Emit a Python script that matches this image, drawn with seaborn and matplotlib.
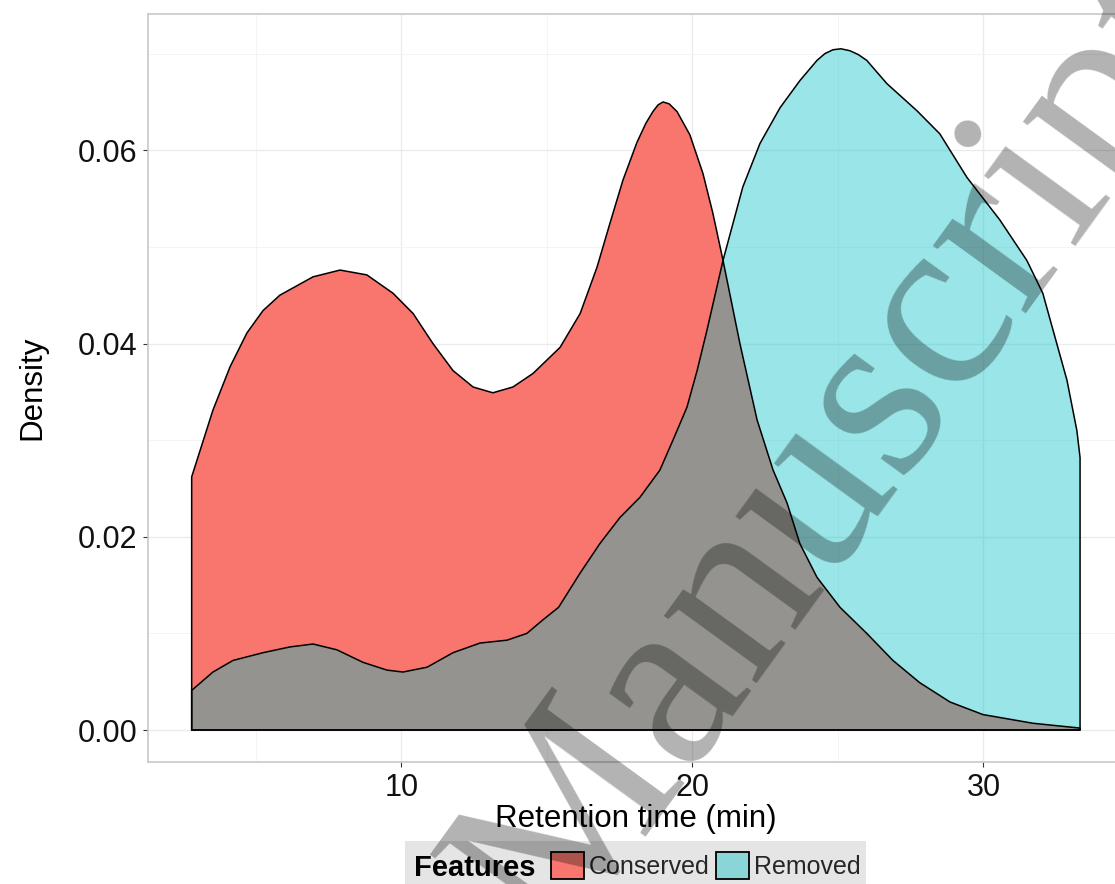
import numpy as np
import pandas as pd
import matplotlib
matplotlib.use("Agg")
import matplotlib.pyplot as plt
import seaborn as sns
from matplotlib.patches import Patch, Rectangle
from matplotlib.ticker import FixedLocator

# ---------------- data ----------------
series = ["Conserved", "Removed"]

conserved_x = [2.79, 3.52, 4.11, 4.69, 5.24, 5.82, 6.96, 7.89, 8.81, 9.71,
               10.40, 11.08, 11.77, 12.46, 13.14, 13.83, 14.52, 15.45, 16.14, 16.72,
               17.16, 17.61, 18.09, 18.40, 18.64, 18.82, 18.99, 19.20, 19.47, 19.91,
               20.36, 20.70, 21.05, 21.63, 22.22, 22.77, 23.25, 23.69, 24.28, 25.07,
               25.99, 26.89, 27.81, 28.85, 29.98, 31.70, 33.32]
conserved_density = [0.0262, 0.0331, 0.0376, 0.0411, 0.0434, 0.0450, 0.0469, 0.0476, 0.0471, 0.0452,
                     0.0431, 0.0400, 0.0372, 0.0355, 0.0349, 0.0355, 0.0369, 0.0396, 0.0431, 0.0479,
                     0.0524, 0.0569, 0.0608, 0.0628, 0.0640, 0.0647, 0.0650, 0.0648, 0.0640, 0.0616,
                     0.0576, 0.0535, 0.0486, 0.0400, 0.0321, 0.0269, 0.0235, 0.0193, 0.0158, 0.0127,
                     0.0100, 0.0072, 0.0049, 0.0029, 0.0016, 0.0007, 0.0002]

removed_x = [2.79, 3.52, 4.21, 5.24, 6.17, 6.96, 7.78, 8.68, 9.50, 10.05,
             10.88, 11.77, 12.70, 13.63, 14.31, 14.86, 15.40, 16.13, 16.82, 17.51,
             18.20, 18.88, 19.33, 19.81, 20.16, 20.50, 21.05, 21.73, 22.32, 23.01,
             23.69, 24.28, 24.55, 24.83, 25.10, 25.41, 25.70, 25.99, 26.68, 27.71,
             28.50, 29.43, 30.56, 31.49, 32.04, 32.39, 32.87, 33.21, 33.32]
removed_density = [0.0041, 0.0060, 0.0072, 0.0080, 0.0086, 0.0089, 0.0083, 0.0070, 0.0062, 0.0060,
                   0.0065, 0.0080, 0.0090, 0.0093, 0.0100, 0.0114, 0.0127, 0.0162, 0.0193, 0.0220,
                   0.0241, 0.0269, 0.0300, 0.0334, 0.0372, 0.0414, 0.0486, 0.0562, 0.0607, 0.0644,
                   0.0672, 0.0693, 0.0700, 0.0704, 0.0705, 0.0703, 0.0699, 0.0693, 0.0669, 0.0641,
                   0.0617, 0.0572, 0.0528, 0.0486, 0.0452, 0.0414, 0.0362, 0.0310, 0.0282]

x_ticks = [10, 20, 30]
y_ticks = [0.00, 0.02, 0.04, 0.06]
y_tick_labels = ["0.00", "0.02", "0.04", "0.06"]
x_label = "Retention time (min)"
y_label = "Density"
legend_title = "Features"
watermark = "Manuscript"

# ---------------- style ----------------
RED = "#F8766D"
CYAN = (0.0, 0.749, 0.769, 0.4)

sns.set_theme(style="white")
plt.rcParams["font.family"] = ["Liberation Sans", "DejaVu Sans"]

W, H = 1115, 884
fig = plt.figure(figsize=(W / 100, H / 100), dpi=100)
fig.patch.set_facecolor("white")
ax = fig.add_axes([148 / W, (H - 762) / H, (1124 - 148) / W, (762 - 14) / H])
ax.set_facecolor("white")

frames = {
    "Conserved": pd.DataFrame({"x": conserved_x, "y": conserved_density}),
    "Removed": pd.DataFrame({"x": removed_x, "y": removed_density}),
}
fills = {"Conserved": RED, "Removed": CYAN}

for name in series:
    d = frames[name]
    ax.fill_between(d["x"], 0, d["y"], facecolor=fills[name], edgecolor="none", zorder=2)
    # closed outline (vertical sides + baseline), as ggplot draws it
    ox = np.r_[d["x"].iloc[0], d["x"].to_numpy(), d["x"].iloc[-1], d["x"].iloc[0]]
    oy = np.r_[0.0, d["y"].to_numpy(), 0.0, 0.0]
    outline = pd.DataFrame({"x": ox, "y": oy})
    sns.lineplot(data=outline, x="x", y="y", sort=False, estimator=None, color="black",
                 linewidth=1.1, ax=ax, zorder=3)

ax.set_xlim(1.289, 34.83)
ax.set_ylim(-0.00331, 0.0741)

ax.xaxis.set_major_locator(FixedLocator(x_ticks))
ax.xaxis.set_minor_locator(FixedLocator([5, 15, 25]))
ax.yaxis.set_major_locator(FixedLocator(y_ticks))
ax.yaxis.set_minor_locator(FixedLocator([0.01, 0.03, 0.05, 0.07]))
ax.set_yticklabels(y_tick_labels)
ax.set_xticklabels([str(t) for t in x_ticks])

ax.grid(which="major", color="#ebebeb", linewidth=1.0, zorder=0)
ax.grid(which="minor", color="#f3f3f3", linewidth=0.6, zorder=0)
ax.set_axisbelow(True)

for s in ax.spines.values():
    s.set_color("#c8c8c8")
    s.set_linewidth(1.2)

ax.tick_params(which="major", length=3.6, width=0.8, color="#333333",
               labelsize=22, labelcolor="#111111", pad=4, bottom=True, left=True)
ax.tick_params(axis="x", pad=4.3)
ax.tick_params(which="minor", length=0)

ax.set_xlabel(x_label, fontsize=22.5, labelpad=1, color="black")
ax.set_ylabel(y_label, fontsize=22.5, labelpad=22, color="black")

# ---------------- legend (bottom, ggplot style) ----------------
fig.add_artist(Rectangle((405 / W, 0), (866 - 405) / W, (H - 841) / H,
                         transform=fig.transFigure, facecolor="#e5e5e5",
                         edgecolor="none", zorder=1))
fig.text(414 / W, (H - 876) / H, legend_title, fontsize=21, fontweight="bold",
         ha="left", va="baseline", color="black", zorder=6)
handles = [Patch(facecolor=RED, edgecolor="black", linewidth=1.3),
           Patch(facecolor=CYAN, edgecolor="black", linewidth=1.3)]
fig.legend(handles, series, ncol=2, loc="center left",
           bbox_to_anchor=(551 / W, (H - 865.5) / H), frameon=False, fontsize=18,
           handlelength=1.32, handleheight=1.32, handletextpad=0.2,
           columnspacing=0.25, borderpad=0, borderaxespad=0)

# ---------------- watermark ----------------
fig.text(891 / W, (H - 490) / H, watermark, rotation=54, rotation_mode="anchor",
         ha="center", va="baseline", fontsize=180, family=["Liberation Serif", "DejaVu Serif"],
         color="black", alpha=0.3, zorder=20)

fig.savefig("out.png", dpi=100)
